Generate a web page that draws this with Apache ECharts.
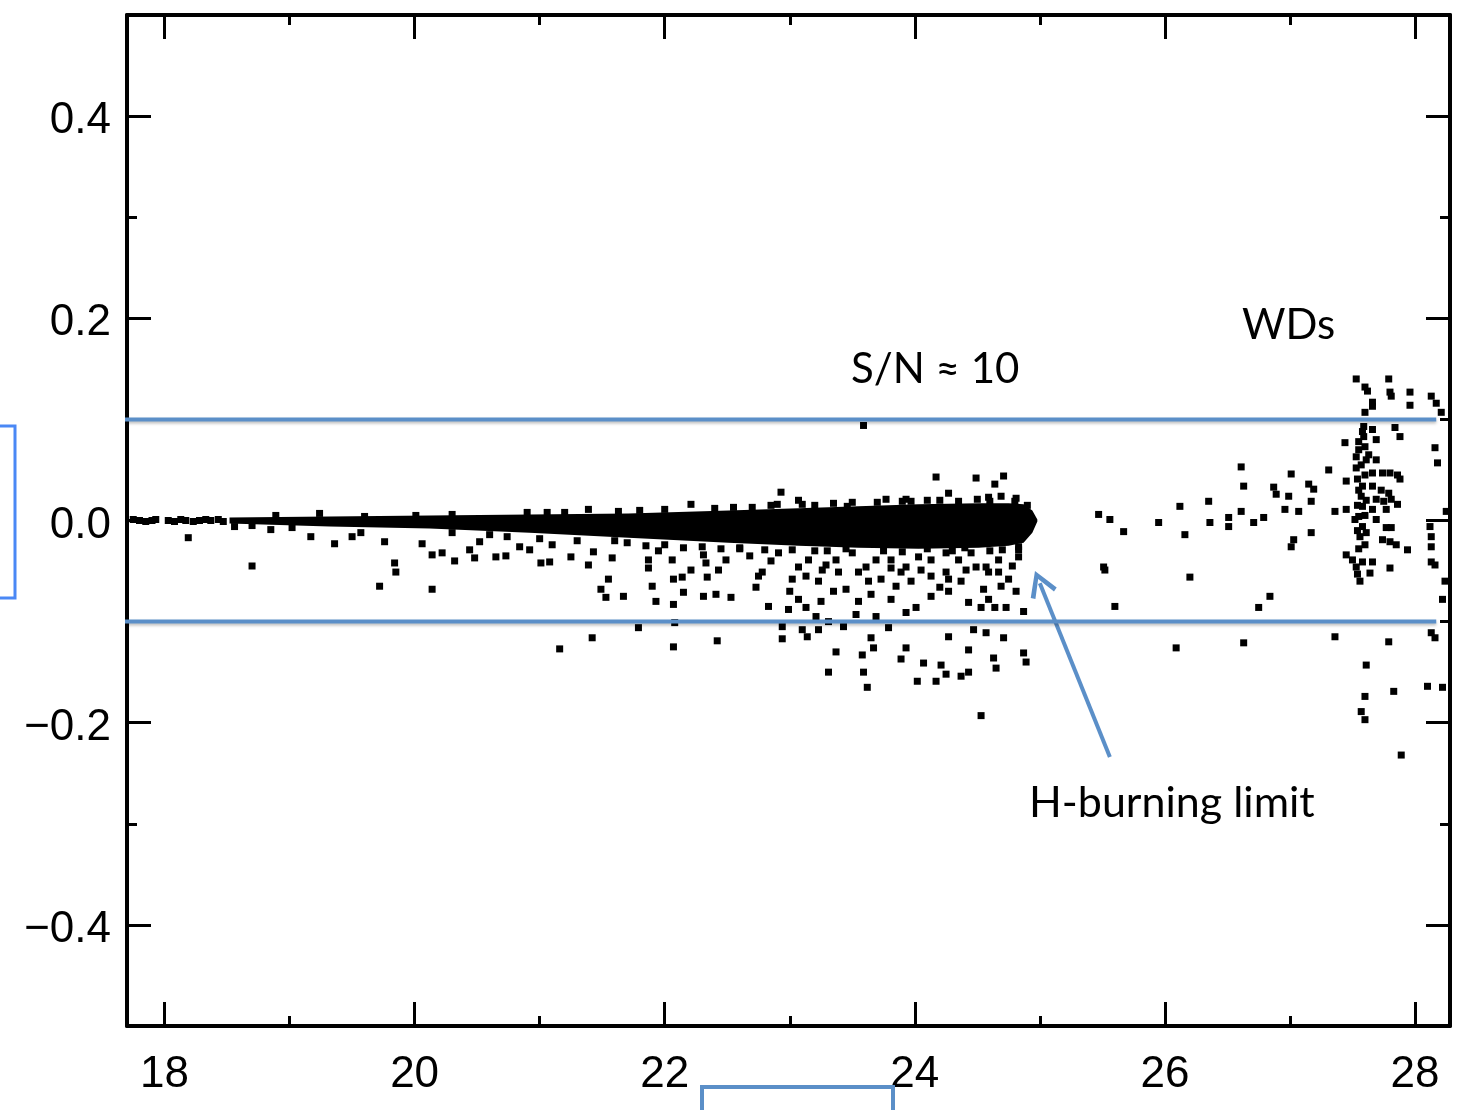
<!DOCTYPE html>
<html><head><meta charset="utf-8">
<script src="https://cdn.jsdelivr.net/npm/echarts@6/dist/echarts.min.js"></script>
<style>html,body{margin:0;padding:0;background:#fff}#c{width:1460px;height:1110px}</style>
</head><body><div id="c"></div>
<script>
// ---- axes / ticks ----
const xRange = [17.7, 28.28];
const yRange = [-0.5, 0.5];
const xMajor = [18, 20, 22, 24, 26, 28];
const xMinor = [19, 21, 23, 25, 27];
const yMajor = [-0.4, -0.2, 0, 0.2, 0.4];
const yMinor = [-0.3, -0.1, 0.1, 0.3];

// ---- dense main-sequence core (envelope of the solid black band) ----
const bandMag  = [18.52, 19.32, 20.12, 20.92, 21.71, 22.51, 23.07, 23.55, 24.03, 24.51, 24.75, 24.87, 24.94, 24.98];
const bandHigh = [0.003, 0.004, 0.005, 0.006, 0.007, 0.010, 0.012, 0.014, 0.016, 0.017, 0.017, 0.016, 0.010, 0.001];
const bandLow  = [-0.003, -0.006, -0.008, -0.012, -0.017, -0.022, -0.025, -0.027, -0.028, -0.027, -0.025, -0.022, -0.012, -0.001];

// ---- individual stars [magnitude, residual] ----
const brightStars = [
  [17.75,0.001],[17.80,0.000],[17.85,-0.001],[17.90,0.000],[17.93,0.001],
  [18.03,0.000],[18.08,-0.001],[18.13,0.001],[18.17,0.000],
  [18.23,-0.001],[18.28,0.000],[18.33,0.001],[18.37,0.000],[18.43,0.001],[18.47,-0.001],
  [18.19,-0.017],[18.70,-0.045],[19.36,-0.023],[19.17,-0.016],[19.24,0.007],[18.89,0.005],
  [19.57,-0.012],[19.50,-0.016],[19.76,-0.021],[19.84,-0.042],[19.85,-0.051],[19.72,-0.065],
  [20.06,-0.023],[20.14,-0.034],[20.14,-0.068],[20.01,0.005],[18.56,-0.006],[18.70,-0.005],
  [18.85,-0.009],[19.02,-0.007],[19.60,0.004],[20.30,0.006],[20.90,0.008]
];
const msStars = [
  [20.22,-0.032],[20.32,-0.040],[20.44,-0.029],[20.48,-0.037],[20.52,-0.021],[20.65,-0.036],
  [20.73,-0.035],[20.74,-0.016],[20.84,-0.026],[20.92,-0.029],[21.01,-0.042],[21.08,-0.041],
  [21.10,-0.024],[21.06,0.008],[21.25,-0.036],[21.39,-0.044],[21.43,-0.031],[21.55,-0.058],
  [21.49,-0.068],[21.53,-0.076],[21.67,-0.075],[21.58,-0.037],[21.39,0.011],[21.63,0.009],
  [21.87,-0.039],[21.87,-0.047],[21.90,-0.065],[21.93,-0.080],[22.07,-0.083],[22.07,-0.058],
  [22.14,-0.056],[22.15,-0.071],[22.21,-0.049],[22.06,-0.039],[22.31,-0.034],[22.33,-0.042],
  [22.34,-0.056],[22.31,-0.075],[22.41,-0.073],[22.43,-0.049],[22.53,-0.076],[22.49,-0.039],
  [22.21,0.016],[22.55,0.013],[21.79,-0.106],[21.42,-0.116],[21.16,-0.127],[22.07,-0.125],
  [22.08,-0.101],[22.42,-0.119],[22.75,-0.055],
  [21.20,0.008],[21.80,0.010],[22.00,0.011],[22.40,0.012],[22.70,0.013],[22.85,0.015],
  [23.20,0.015],[23.35,0.017],[23.70,0.018],[24.10,0.020],[24.35,0.019],[24.60,0.019],
  [21.70,-0.022],[21.85,-0.025],[22.00,-0.024],[22.15,-0.027],[22.30,-0.026],[22.45,-0.028],
  [21.60,-0.020],[21.95,-0.030],
  [20.30,-0.012],[20.60,-0.014],[21.00,-0.018],[21.30,-0.020],[22.60,-0.027],[22.80,-0.029],
  [23.30,-0.030],[23.90,-0.031],[24.30,-0.030],[24.70,-0.029],
  [22.90,0.016],[23.10,0.016],[23.50,0.018],[23.90,0.019],[24.20,0.020],[24.50,0.021],
  [24.80,0.019],[24.90,0.015],
  [23.59,0.094],[22.93,0.028],[23.07,0.020],[24.17,0.043],[24.49,0.042],[24.64,0.036],
  [24.71,0.044],[24.27,0.027],[24.59,0.023],[24.81,0.022],[24.69,0.024],[23.77,0.021],
  [23.93,0.021],[23.46,0.014],[23.97,0.019],
  [22.78,-0.051],[22.73,-0.066],[23.02,-0.058],[23.13,-0.055],[23.23,-0.060],[23.29,-0.044],
  [23.39,-0.051],[23.45,-0.068],[23.55,-0.051],[23.63,-0.060],[23.73,-0.058],[23.81,-0.047],
  [23.89,-0.051],[23.97,-0.060],[24.05,-0.049],[24.13,-0.055],[24.27,-0.058],[24.37,-0.060],
  [24.49,-0.046],[24.59,-0.051],[24.69,-0.065],[24.83,-0.036],[24.83,-0.026],[23.07,-0.078],
  [23.25,-0.080],[22.83,-0.085],[22.99,-0.088],[23.13,-0.086],[23.55,-0.080],[23.65,-0.073],
  [23.81,-0.078],[24.01,-0.086],[24.13,-0.075],[24.27,-0.070],[24.43,-0.081],[24.53,-0.086],
  [24.64,-0.086],[24.73,-0.086],[24.59,-0.078],[24.81,-0.070],[24.87,-0.090],[23.53,-0.093],
  [23.69,-0.095],[23.93,-0.091],[23.21,-0.095],[23.31,-0.100],[22.94,-0.105],[23.10,-0.108],
  [23.23,-0.108],[23.43,-0.105],[23.79,-0.106],[22.94,-0.117],[23.14,-0.115],[23.65,-0.116],
  [24.27,-0.115],[24.47,-0.108],[24.57,-0.111],[24.71,-0.116],[23.37,-0.130],[23.58,-0.133],
  [23.67,-0.126],[23.93,-0.126],[23.89,-0.137],[24.07,-0.141],[24.21,-0.143],[24.43,-0.128],
  [24.63,-0.136],[24.65,-0.146],[24.87,-0.131],[24.89,-0.140],[23.31,-0.150],[23.59,-0.150],
  [23.62,-0.165],[24.02,-0.159],[24.17,-0.159],[24.25,-0.152],[24.37,-0.154],[24.43,-0.150],
  [24.53,-0.193],
  [22.91,-0.032],[23.02,-0.029],[23.15,-0.039],[23.26,-0.049],[23.37,-0.039],[23.50,-0.032],
  [23.61,-0.046],[23.69,-0.039],[23.81,-0.039],[23.93,-0.046],[24.03,-0.036],[24.13,-0.039],
  [24.25,-0.032],[24.35,-0.039],[24.45,-0.032],[24.57,-0.046],[24.67,-0.039],[24.83,-0.029],
  [23.07,-0.046],[24.25,-0.051],[24.41,-0.049],[24.67,-0.051],[24.75,-0.058],
  [22.60,-0.028],[22.68,-0.035],[22.85,-0.040],[23.20,-0.030],[23.45,-0.028],[23.75,-0.030],
  [24.10,-0.028],[24.40,-0.027],[24.60,-0.030],[24.78,-0.045],[23.85,-0.065],[24.20,-0.066],
  [24.55,-0.068],[23.35,-0.070],[23.00,-0.070]
];
const gapStars = [
  [25.47,0.006],[25.56,0.001],[25.67,-0.011],[25.95,-0.002],[26.12,0.014],[26.16,-0.014],
  [26.35,0.019],[26.36,-0.002],[26.51,0.003],[26.51,-0.006],[26.61,0.053],[26.63,0.034],
  [26.61,0.009],[26.71,-0.002],[26.79,0.003],[26.87,0.033],[26.89,0.026],[26.96,0.011],
  [27.01,0.046],[26.99,0.024],[27.07,0.009],[27.15,0.036],[27.19,0.031],[27.17,0.019],
  [27.17,-0.012],[27.03,-0.019],[27.01,-0.026],[27.31,0.050],[27.36,0.009],[25.51,-0.046],
  [25.52,-0.049],[26.20,-0.056],[25.60,-0.085],[26.75,-0.086],[26.84,-0.075],[26.09,-0.126],
  [26.63,-0.121],[27.36,-0.115]
];
const wdStars = [
  [27.53,0.140],[27.60,0.132],[27.62,0.128],[27.66,0.117],[27.66,0.113],[27.79,0.140],
  [27.80,0.127],[27.81,0.123],[27.96,0.127],[27.96,0.114],[28.13,0.123],[28.17,0.116],
  [28.21,0.107],[27.60,0.107],[27.59,0.093],[27.66,0.090],[27.59,0.083],[27.69,0.080],
  [27.44,0.077],[27.60,0.073],[27.84,0.092],[27.88,0.083],[28.16,0.072],[28.18,0.057],
  [27.53,0.063],[27.61,0.060],[27.69,0.060],[27.53,0.052],[27.54,0.041],[27.58,0.034],
  [27.57,0.024],[27.58,0.014],[27.55,0.004],[27.58,-0.006],[27.56,-0.016],[27.60,-0.024],
  [27.66,0.047],[27.74,0.047],[27.80,0.047],[27.86,0.045],[27.88,0.041],[27.66,0.034],
  [27.73,0.030],[27.79,0.027],[27.69,0.021],[27.75,0.019],[27.81,0.021],[27.86,0.016],
  [27.66,0.011],[27.77,0.011],[27.45,0.039],[27.45,0.011],[27.52,0.001],[27.69,0.001],
  [27.77,-0.007],[27.81,-0.007],[27.74,-0.019],[27.80,-0.021],[27.85,-0.024],[27.94,-0.029],
  [27.50,-0.039],[27.58,-0.041],[27.66,-0.041],[27.53,-0.046],[27.54,-0.053],[27.56,-0.060],
  [27.64,-0.052],[27.80,-0.047],[27.45,-0.034],
  [27.55,0.070],[27.57,0.055],[27.60,0.045],[27.55,0.030],[27.61,0.020],[27.54,0.015],
  [27.60,0.005],[27.54,-0.010],[27.61,-0.012],[27.55,-0.028],[27.58,0.088],[27.55,0.078],
  [27.63,0.065],
  [28.25,0.009],[28.12,-0.006],[28.13,-0.016],[28.13,-0.026],[28.13,-0.041],[28.16,-0.044],
  [28.24,-0.060],[28.22,-0.078],[28.13,-0.111],[28.16,-0.116],[28.10,-0.164],[28.22,-0.165],
  [27.79,-0.120],[27.61,-0.143],[27.83,-0.169],[27.60,-0.174],[27.57,-0.189],[27.60,-0.197],
  [27.89,-0.232]
];

// ---- annotations ----
const snLevels = [0.1, -0.1];
const snLineMag = [17.63, 28.17];
const arrowFrom = [25.56, -0.234];
const arrowTo = [25.00, -0.062];

const BLUE = '#5b8fc8';
const labelFont = 'Liberation Sans';

function xAx(pos, ticks, len, label, line) {
  return {
    type: 'value', position: pos, min: xRange[0], max: xRange[1],
    splitLine: {show: false},
    axisLine: {show: line, onZero: false, lineStyle: {color: '#000', width: 4}},
    axisTick: {show: true, inside: true, length: len, customValues: ticks, lineStyle: {color: '#000', width: 3}},
    axisLabel: {show: label, customValues: ticks, fontSize: 44, color: '#000', fontFamily: labelFont, margin: 27,
      formatter: v => String(Math.round(v))}
  };
}
function yAx(pos, ticks, len, label, line) {
  return {
    type: 'value', position: pos, min: yRange[0], max: yRange[1],
    splitLine: {show: false},
    axisLine: {show: line, onZero: false, lineStyle: {color: '#000', width: 4}},
    axisTick: {show: true, inside: true, length: len, customValues: ticks, lineStyle: {color: '#000', width: 3}},
    axisLabel: {show: label, customValues: ticks, color: '#000', margin: 16,
      formatter: v => '{v|' + (v < -1e-9 ? '\u2212' : '') + Math.abs(v).toFixed(1) + '}',
      rich: {v: {fontSize: 44, color: '#000', fontFamily: labelFont, padding: [10, 0, 0, 0]}}}
  };
}

function starSeries(data) {
  return {type: 'scatter', data: data, symbol: 'rect', symbolSize: 7,
    itemStyle: {color: '#000', opacity: 1}, silent: true, xAxisIndex: 0, yAxisIndex: 0, z: 3};
}

const chart = echarts.init(document.getElementById('c'), null, {renderer: 'canvas'});
chart.setOption({
  animation: false,
  backgroundColor: '#fff',
  grid: {left: 127, right: 10, top: 15, bottom: 84, containLabel: false},
  xAxis: [xAx('bottom', xMajor, 24, true, true), xAx('bottom', xMinor, 10, false, false),
          xAx('top', xMajor, 24, false, true), xAx('top', xMinor, 10, false, false)],
  yAxis: [yAx('left', yMajor, 24, true, true), yAx('left', yMinor, 10, false, false),
          yAx('right', yMajor, 24, false, true), yAx('right', yMinor, 10, false, false)],
  series: [
    {
      type: 'custom', xAxisIndex: 0, yAxisIndex: 0, data: [0], silent: true, z: 2,
      renderItem: function (params, api) {
        const top = bandMag.map((m, i) => api.coord([m, bandHigh[i]]));
        const bot = bandMag.map((m, i) => api.coord([m, bandLow[i]])).reverse();
        return {type: 'polygon', shape: {points: top.concat(bot)}, style: {fill: '#000'}};
      }
    },
    starSeries(brightStars), starSeries(msStars), starSeries(gapStars), starSeries(wdStars),
    ...snLevels.map(lv => ({
      type: 'line', xAxisIndex: 0, yAxisIndex: 0, clip: false, silent: true, z: 5,
      data: snLineMag.map(m => [m, lv]), symbol: 'none',
      lineStyle: {color: BLUE, width: 4, shadowColor: 'rgba(0,0,0,0.25)', shadowBlur: 3, shadowOffsetY: 2}
    })),
    {
      type: 'line', xAxisIndex: 0, yAxisIndex: 0, data: [], silent: true, z: 6,
      markLine: {
        silent: true, animation: false,
        symbol: ['none', 'path://M0,22 L14,0 L28,22 L24,24.5 L14,8 L4,24.5 Z'],
        symbolSize: [28, 26],
        label: {show: false},
        lineStyle: {color: BLUE, width: 4, type: 'solid'},
        emphasis: {disabled: true},
        data: [[{coord: arrowFrom}, {coord: arrowTo}]]
      }
    }
  ],
  graphic: [
    {type: 'text', left: 851, top: 348, z: 10, style: {text: 'S/N \u2248 10', font: '42px Lato', fill: '#000'}},
    {type: 'text', left: 1242, top: 304, z: 10, style: {text: 'WDs', font: '42px Lato', fill: '#000'}},
    {type: 'text', left: 1029, top: 782, z: 10, style: {text: 'H-burning limit', font: '43px Lato', fill: '#000'}},
    {type: 'rect', z: 10, shape: {x: -20, y: 426, width: 35, height: 172}, style: {fill: 'none', stroke: '#4a88f5', lineWidth: 3}},
    {type: 'rect', z: 10, shape: {x: 702, y: 1087, width: 191, height: 60}, style: {fill: 'none', stroke: BLUE, lineWidth: 4}}
  ]
});
</script>
</body></html>
